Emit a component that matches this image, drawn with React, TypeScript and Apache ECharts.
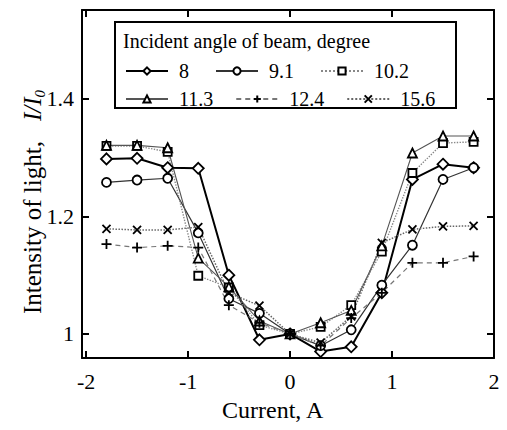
import React, { useEffect, useRef } from "react";
import * as echarts from "echarts";

const currents = [-1.8, -1.5, -1.2, -0.9, -0.6, -0.3, 0, 0.3, 0.6, 0.9, 1.2, 1.5, 1.8];
const angle8 = [1.298, 1.299, 1.283, 1.282, 1.1, 0.99, 1.0, 0.97, 0.978, 1.07, 1.263, 1.289, 1.283];
const angle9_1 = [1.258, 1.262, 1.265, 1.172, 1.06, 1.035, 1.0, 0.98, 1.007, 1.083, 1.151, 1.263, 1.283];
const angle10_2 = [1.32, 1.32, 1.31, 1.099, 1.079, 1.015, 1.0, 1.012, 1.049, 1.14, 1.274, 1.325, 1.327];
const angle11_3 = [1.321, 1.321, 1.317, 1.129, 1.08, 1.022, 1.0, 1.019, 1.04, 1.15, 1.308, 1.337, 1.337];
const angle12_4 = [1.153, 1.147, 1.15, 1.147, 1.049, 1.019, 1.0, 0.98, 1.027, 1.07, 1.121, 1.121, 1.132];
const angle15_6 = [1.179, 1.177, 1.177, 1.182, 1.07, 1.048, 1.0, 0.985, 1.03, 1.155, 1.178, 1.183, 1.184];

const xTicks = [-2, -1, 0, 1, 2];
const yTicks = [1, 1.2, 1.4];
const legendRow1 = ["8", "9.1", "10.2"];
const legendRow2 = ["11.3", "12.4", "15.6"];

const FONT = "Liberation Serif";
const PLUS = "path://M0,5L10,5M5,0L5,10";
const CROSS = "path://M0,0L10,10M10,0L0,10";

const pair = (ys: number[]) => currents.map((x, i) => [x, ys[i]]);

export default function App() {
  const ref = useRef<HTMLDivElement>(null);
  useEffect(() => {
    if (!ref.current) return;
    const chart = echarts.init(ref.current, null, { renderer: "svg" });

    const mk = (
      name: string,
      ys: number[],
      symbol: string,
      symbolSize: number,
      line: any,
      fill = "#fff"
    ) => ({
      name,
      type: "line",
      data: pair(ys),
      symbol,
      symbolSize,
      showSymbol: true,
      lineStyle: line,
      itemStyle: { color: fill, borderColor: "#000", borderWidth: 1.8 },
      emphasis: { disabled: true },
      z: 3,
    });

    const axisCommon = {
      type: "value",
      axisLine: { show: true, onZero: false, lineStyle: { color: "#000", width: 2 } },
      axisTick: { show: true, inside: true, length: 7, lineStyle: { color: "#000", width: 2 } },
      splitLine: { show: false },
    };

    const textStyleLegend = {
      color: "#000",
      fontSize: 20,
      fontFamily: FONT,
      padding: [0, 0, 0, 6],
    };

    chart.setOption({
      animation: false,
      backgroundColor: "#fff",
      textStyle: { fontFamily: FONT },
      grid: { left: 82, right: 13, top: 10, bottom: 72 },
      xAxis: [
        {
          ...axisCommon,
          position: "bottom",
          min: -2.04,
          max: 2.0,
          axisTick: { ...axisCommon.axisTick, customValues: xTicks },
          axisLabel: {
            customValues: xTicks,
            color: "#000",
            fontSize: 22,
            fontFamily: FONT,
            margin: 12,
          },
        },
        {
          ...axisCommon,
          position: "top",
          min: -2.04,
          max: 2.0,
          axisTick: { ...axisCommon.axisTick, customValues: xTicks },
          axisLabel: { show: false },
        },
      ],
      yAxis: [
        {
          ...axisCommon,
          position: "left",
          min: 0.959,
          max: 1.5515,
          axisTick: { ...axisCommon.axisTick, customValues: yTicks },
          axisLabel: {
            customValues: yTicks,
            color: "#000",
            fontSize: 22,
            fontFamily: FONT,
            margin: 8,
          },
        },
        {
          ...axisCommon,
          position: "right",
          min: 0.959,
          max: 1.5515,
          axisTick: { ...axisCommon.axisTick, customValues: yTicks },
          axisLabel: { show: false },
        },
      ],
      legend: [
        {
          data: legendRow1,
          left: 120,
          top: 56,
          itemWidth: 42,
          itemHeight: 9,
          itemGap: 26,
          selectedMode: false,
          textStyle: textStyleLegend,
        },
        {
          data: legendRow2,
          left: 120,
          top: 84,
          itemWidth: 42,
          itemHeight: 9,
          itemGap: 22,
          selectedMode: false,
          textStyle: textStyleLegend,
        },
      ],
      graphic: [
        {
          type: "rect",
          shape: { x: 115, y: 22, width: 341, height: 86 },
          style: { fill: "none", stroke: "#000", lineWidth: 2 },
          z: 1,
        },
        {
          type: "text",
          x: 123,
          y: 41,
          style: {
            text: "Incident angle of beam, degree",
            fill: "#000",
            fontSize: 20,
            fontFamily: FONT,
            verticalAlign: "middle",
            align: "left",
          },
        },
        {
          type: "text",
          x: 222,
          y: 410,
          style: {
            text: "Current, A",
            fill: "#000",
            fontSize: 24,
            fontFamily: FONT,
            verticalAlign: "middle",
            align: "left",
          },
        },
        {
          type: "text",
          x: 32,
          y: 202,
          rotation: Math.PI / 2,
          style: {
            text: "{a|Intensity of light,}      {b|I/I}{c|0}",
            align: "center",
            verticalAlign: "middle",
            rich: {
              a: { fontSize: 25, fontFamily: FONT, fill: "#000", lineHeight: 30 },
              b: { fontSize: 25, fontFamily: FONT, fontStyle: "italic", fill: "#000", lineHeight: 30 },
              c: {
                fontSize: 15,
                fontFamily: FONT,
                fontStyle: "italic",
                fill: "#000",
                lineHeight: 30,
                verticalAlign: "bottom",
              },
            },
          },
        },
      ],
      series: [
        mk("8", angle8, "diamond", 11, { color: "#000", width: 2, type: "solid" }),
        mk("9.1", angle9_1, "circle", 9, { color: "#333", width: 1.2, type: "solid" }),
        mk("10.2", angle10_2, "rect", 8, { color: "#888", width: 1.4, type: "dotted" }),
        mk("11.3", angle11_3, "triangle", 9, { color: "#555", width: 1.1, type: "solid" }),
        mk("12.4", angle12_4, PLUS, 10, { color: "#777", width: 1.2, type: [5, 4] }, "#000"),
        mk("15.6", angle15_6, CROSS, 8, { color: "#666", width: 1.5, type: "dotted" }, "#000"),
      ],
    });
    return () => chart.dispose();
  }, []);
  return (
    <div
      ref={ref}
      style={{ position: "fixed", left: 0, top: 0, width: 507, height: 430, background: "#fff" }}
    />
  );
}
